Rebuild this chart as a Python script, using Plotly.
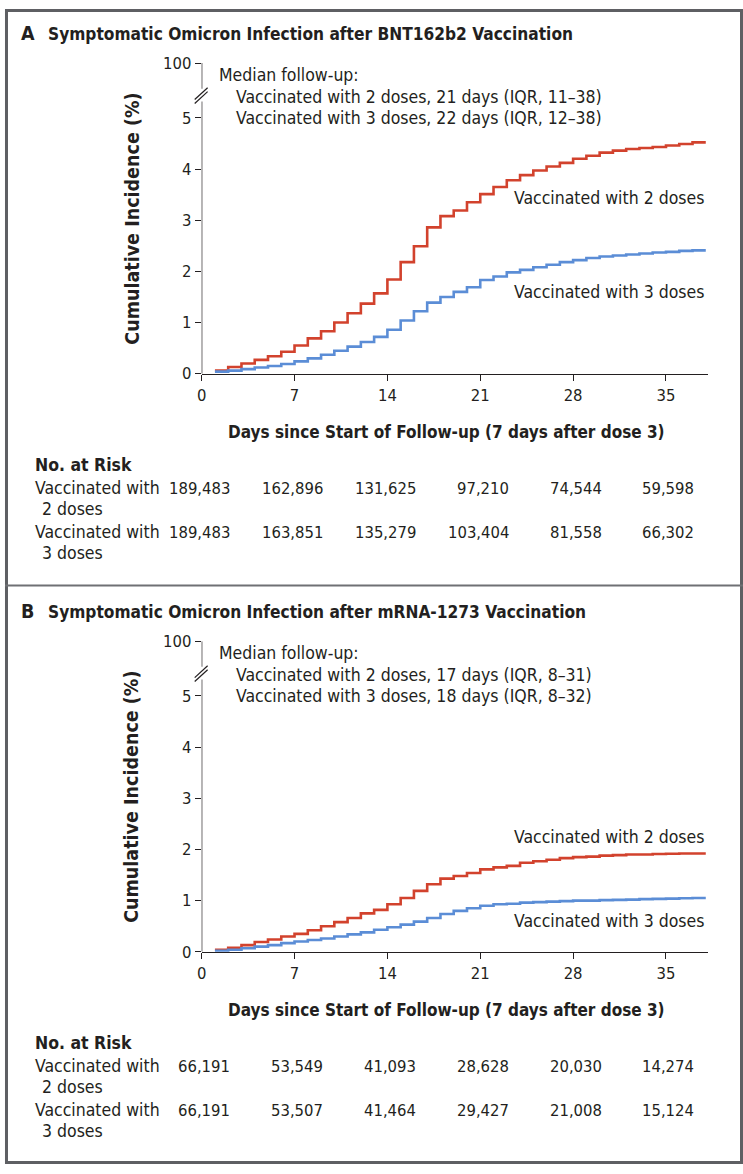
import plotly.graph_objects as go

W, H = 743, 1174

# data (cumulative incidence in %, day 1..38)
days = list(range(1, 39))

a_two_doses = [0.06, 0.13, 0.20, 0.27, 0.34, 0.43, 0.55, 0.69, 0.83, 1.00,
               1.18, 1.37, 1.57, 1.84, 2.18, 2.49, 2.86, 3.08, 3.19, 3.35,
               3.51, 3.65, 3.78, 3.88, 3.97, 4.05, 4.12, 4.20, 4.26, 4.32,
               4.36, 4.39, 4.41, 4.43, 4.46, 4.49, 4.52, 4.52]
a_three_doses = [0.04, 0.06, 0.09, 0.12, 0.15, 0.19, 0.24, 0.30, 0.37, 0.45,
                 0.53, 0.62, 0.72, 0.86, 1.04, 1.22, 1.39, 1.50, 1.60, 1.69,
                 1.83, 1.90, 1.98, 2.03, 2.08, 2.13, 2.18, 2.22, 2.26, 2.29,
                 2.31, 2.33, 2.35, 2.37, 2.38, 2.40, 2.41, 2.41]

b_two_doses = [0.04, 0.08, 0.13, 0.19, 0.24, 0.30, 0.35, 0.42, 0.50, 0.58,
               0.66, 0.75, 0.82, 0.93, 1.05, 1.19, 1.32, 1.43, 1.48, 1.54,
               1.61, 1.65, 1.68, 1.74, 1.77, 1.80, 1.83, 1.85, 1.86, 1.88,
               1.89, 1.90, 1.90, 1.91, 1.915, 1.92, 1.92, 1.92]
b_three_doses = [0.02, 0.04, 0.07, 0.10, 0.13, 0.17, 0.20, 0.23, 0.26, 0.30,
                 0.34, 0.38, 0.43, 0.48, 0.53, 0.59, 0.66, 0.74, 0.80, 0.85,
                 0.90, 0.93, 0.94, 0.96, 0.97, 0.98, 0.99, 1.00, 1.00, 1.01,
                 1.015, 1.02, 1.03, 1.035, 1.04, 1.045, 1.05, 1.05]

x_ticks = [0, 7, 14, 21, 28, 35]
y_ticks = [0, 1, 2, 3, 4, 5]
y_top_label = "100"

a_risk_two = ["189,483", "162,896", "131,625", "97,210", "74,544", "59,598"]
a_risk_three = ["189,483", "163,851", "135,279", "103,404", "81,558", "66,302"]
b_risk_two = ["66,191", "53,549", "41,093", "28,628", "20,030", "14,274"]
b_risk_three = ["66,191", "53,507", "41,464", "29,427", "21,008", "15,124"]

a_title = "Symptomatic Omicron Infection after BNT162b2 Vaccination"
b_title = "Symptomatic Omicron Infection after mRNA-1273 Vaccination"
a_median = ["Median follow-up:",
            "Vaccinated with 2 doses, 21 days (IQR, 11\u201338)",
            "Vaccinated with 3 doses, 22 days (IQR, 12\u201338)"]
b_median = ["Median follow-up:",
            "Vaccinated with 2 doses, 17 days (IQR, 8\u201331)",
            "Vaccinated with 3 doses, 18 days (IQR, 8\u201332)"]

RED = "#d2422d"
BLUE = "#5b8dd6"
INK = "#231f20"
FONT = "DejaVu Sans Condensed, DejaVu Sans, sans-serif"
FS = 17.5     # running text
FN = 16.5     # numbers

def px(x):
    return x / W

def py(y):
    return 1 - y / H

Y_TOP = 6.07          # position of the "100" tick above the break
X0, X1 = 198, 708.2   # plot left / right in pixels
PANEL_DY = 587.6      # vertical offset of panel B

fig = go.Figure()

panels = [
    (0, "x", "y", a_two_doses, a_three_doses, a_risk_two, a_risk_three, "A", a_title, a_median, (192, 288)),
    (PANEL_DY, "x2", "y2", b_two_doses, b_three_doses, b_risk_two, b_risk_three, "B", b_title, b_median,
     (842 - PANEL_DY, 927 - PANEL_DY)),
]

annotations = []
shapes = []

def note(text, x, y, size=FS, xanchor="left", xref="paper", **kw):
    annotations.append(dict(text=text, x=x, y=y, xref=xref, yref="paper", xanchor=xanchor,
                            yanchor="middle", showarrow=False, font=dict(size=size, color=INK), **kw))

for dy, xa, ya, two, three, r2, r3, letter, title, median, lab_y in panels:
    fig.add_trace(go.Scatter(x=days, y=two, mode="lines", line=dict(color=RED, width=2.6, shape="hv"),
                             xaxis=xa, yaxis=ya, showlegend=False, hoverinfo="skip"))
    fig.add_trace(go.Scatter(x=days, y=three, mode="lines", line=dict(color=BLUE, width=2.6, shape="hv"),
                             xaxis=xa, yaxis=ya, showlegend=False, hoverinfo="skip"))

    # y axis line with a break
    shapes.append(dict(type="line", xref=xa, yref=ya, x0=0, x1=0, y0=0, y1=(370.7 - 94) / 52,
                       line=dict(color=INK, width=1.3)))
    shapes.append(dict(type="line", xref=xa, yref=ya, x0=0, x1=0, y0=(370.7 - 81) / 52, y1=Y_TOP,
                       line=dict(color=INK, width=1.3)))
    for off in (0, 4):
        shapes.append(dict(type="line", xref="paper", yref="paper",
                           x0=px(191), y0=py(92 + off + dy), x1=px(204), y1=py(80 + off + dy),
                           line=dict(color=INK, width=1.2)))

    note("<b>%s</b>" % letter, px(14), py(25 + dy), size=19.5)
    note("<b>%s</b>" % title, px(41), py(25 + dy), size=17.2)
    for i, line in enumerate(median):
        note(line, px(213 if i == 0 else 231), py(67 + 22 * i + dy))
    note("Vaccinated with 2 doses", px(706), py(lab_y[0] + dy), xanchor="right")
    note("Vaccinated with 3 doses", px(706), py(lab_y[1] + dy), xanchor="right")
    note("<b>Cumulative Incidence (%)</b>", px(128), py(213 + dy), size=19.5, xanchor="center",
         textangle=-90)
    note("<b>Days since Start of Follow-up (7 days after dose 3)</b>", px(444), py(430 + dy),
         size=17, xanchor="center")

    # number at risk table
    note("<b>No. at Risk</b>", px(28), py(463 + dy))
    for row_y, label, vals in ((487, "2 doses", r2), (532, "3 doses", r3)):
        note("Vaccinated with", px(28), py(row_y + dy))
        note(label, px(35), py(row_y + 21 + dy))
        for t, v in zip(x_ticks, vals):
            note(v, t + 2.3, py(row_y + dy), size=FN, xanchor="right", xref=xa)

# panel frame
shapes.append(dict(type="rect", xref="paper", yref="paper", x0=px(1.5), x1=px(W - 1.5), y0=py(H - 1.5), y1=py(1.5),
                   line=dict(color="#5e5f63", width=3)))
shapes.append(dict(type="line", xref="paper", yref="paper", x0=px(0), x1=px(W), y0=py(586), y1=py(586),
                   line=dict(color="#6f7074", width=2)))

xaxis_style = dict(range=[0, 38.2], tickvals=x_ticks, ticks="outside", ticklen=6, tickwidth=1.3,
                   tickcolor=INK, showline=True, linecolor=INK, linewidth=1.3, showgrid=False,
                   zeroline=False, tickfont=dict(size=FN, color=INK), fixedrange=True)
yaxis_style = dict(range=[0, Y_TOP], tickvals=y_ticks + [Y_TOP],
                   ticktext=[str(v) for v in y_ticks] + [y_top_label],
                   ticks="outside", ticklen=6, tickwidth=1.3, tickcolor=INK, showline=False,
                   showgrid=False, zeroline=False, tickfont=dict(size=FN, color=INK), fixedrange=True)

fig.update_layout(
    width=W, height=H,
    margin=dict(l=0, r=0, t=0, b=0),
    paper_bgcolor="white", plot_bgcolor="white",
    font=dict(family=FONT, color=INK),
    xaxis=dict(domain=[px(X0), px(X1)], anchor="y", **xaxis_style),
    yaxis=dict(domain=[py(370.7), py(55)], anchor="x", **yaxis_style),
    xaxis2=dict(domain=[px(X0), px(X1)], anchor="y2", **xaxis_style),
    yaxis2=dict(domain=[py(370.7 + PANEL_DY), py(55 + PANEL_DY)], anchor="x2", **yaxis_style),
    annotations=annotations,
    shapes=shapes,
)

# page body has a default 8px margin; drop it so the figure sits at the window origin
fig.write_html("out.html", config={"displayModeBar": False},
               post_script="document.body.style.margin='0';")
